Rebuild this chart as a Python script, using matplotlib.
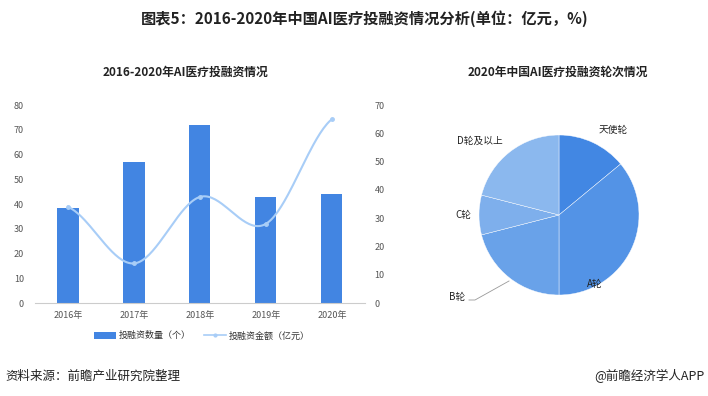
import numpy as np
import matplotlib
matplotlib.use("Agg")
import matplotlib.pyplot as plt
from matplotlib.lines import Line2D
from matplotlib.patches import Patch

plt.rcParams['font.family'] = ['Noto Sans CJK SC', 'DejaVu Sans']

years = ["2016年", "2017年", "2018年", "2019年", "2020年"]
deal_counts = [38.5, 57, 72, 43, 44]          # 投融资数量（个）
deal_amounts = [34, 14, 37.5, 28, 65]         # 投融资金额（亿元）
left_ticks = [0, 10, 20, 30, 40, 50, 60, 70, 80]
right_ticks = [0, 10, 20, 30, 40, 50, 60, 70]

rounds = ["天使轮", "A轮", "B轮", "C轮", "D轮及以上"]
round_shares = [14, 36, 21, 8, 21]
round_colors = ["#4287e3", "#5393e6", "#69a2e9", "#7eafec", "#8bb8ee"]

bar_color = "#4285e2"
line_color = "#a8cdf7"
tick_color = "#555555"

fig = plt.figure(figsize=(7.08, 3.96), dpi=100)

# titles
fig.text(0.515, 0.952, "图表5：2016-2020年中国AI医疗投融资情况分析(单位：亿元，%)",
         ha="center", va="center", fontsize=11, fontweight="bold", color="#222222")
fig.text(0.262, 0.818, "2016-2020年AI医疗投融资情况", ha="center", va="center",
         fontsize=8.5, fontweight="bold", color="#222222")
fig.text(0.788, 0.818, "2020年中国AI医疗投融资轮次情况", ha="center", va="center",
         fontsize=8.5, fontweight="bold", color="#222222")
fig.text(0.007, 0.05, "资料来源：前瞻产业研究院整理", ha="left", va="center",
         fontsize=9, color="#222222")
fig.text(0.995, 0.05, "@前瞻经济学人APP", ha="right", va="center",
         fontsize=9, color="#222222")

# left chart
ax = fig.add_axes([0.0494, 0.2348, 0.466, 0.5])
x = np.arange(len(years))
ax.bar(x, deal_counts, width=0.32, color=bar_color, zorder=2)
ax.set_xlim(-0.5, len(years) - 0.5)
ax.set_ylim(0, 80)
ax.set_yticks(left_ticks)
ax.set_xticks(x)
ax.set_xticklabels(years)
for s in ["top", "right", "left"]:
    ax.spines[s].set_visible(False)
ax.spines["bottom"].set_color("#cccccc")
ax.tick_params(axis="both", length=0, labelsize=6.5, colors=tick_color)
ax.tick_params(axis="x", pad=6)
ax.tick_params(axis="y", pad=8)

ax2 = ax.twinx()
ax2.set_ylim(0, 70)
ax2.set_yticks(right_ticks)
for s in ["top", "right", "left", "bottom"]:
    ax2.spines[s].set_visible(False)
ax2.tick_params(axis="both", length=0, labelsize=6.5, colors=tick_color, pad=7)

# smooth curve through data points (cubic Hermite with Catmull-Rom tangents)
xp = x.astype(float)
yp = np.array(deal_amounts, dtype=float)
m = np.zeros_like(yp)
m[1:-1] = (yp[2:] - yp[:-2]) / 2.0
m[0] = (yp[1] - yp[0]) * 0.5
m[-1] = (yp[-1] - yp[-2]) * 0.5
xs, ys = [], []
for i in range(len(xp) - 1):
    t = np.linspace(0, 1, 40)
    h00 = 2 * t**3 - 3 * t**2 + 1
    h10 = t**3 - 2 * t**2 + t
    h01 = -2 * t**3 + 3 * t**2
    h11 = t**3 - t**2
    xs.extend(xp[i] + t)
    ys.extend(h00 * yp[i] + h10 * m[i] + h01 * yp[i + 1] + h11 * m[i + 1])
ax2.plot(xs, ys, color=line_color, lw=1.5, zorder=3)
ax2.plot(xp, yp, "o", color=line_color, ms=2.5, zorder=4)

handles = [Patch(facecolor=bar_color, edgecolor="none"),
           Line2D([0], [0], color=line_color, lw=1.2, marker="o", ms=2)]
fig.legend(handles, ["投融资数量（个）", "投融资金额（亿元）"], loc="center",
           bbox_to_anchor=(0.285, 0.152), ncol=2, frameon=False, fontsize=6.5,
           handlelength=2.4, handleheight=0.9, columnspacing=1.5, handletextpad=0.3,
           labelcolor="#333333")

# pie
r_px = 80
cx, cy = 559, 215
axp = fig.add_axes([(cx - r_px) / 708, 1 - (cy + r_px) / 396, 2 * r_px / 708, 2 * r_px / 396])
wedges, _ = axp.pie(round_shares, colors=round_colors, startangle=90, counterclock=False,
                    wedgeprops=dict(edgecolor="white", linewidth=0.3))
axp.set_aspect("auto")
axp.set_xlim(-1, 1)
axp.set_ylim(-1, 1)

def fig_pt(px, py):
    return px / 708, 1 - py / 396

lab_kw = dict(fontsize=7, color="#222222", va="center")
fig.text(*fig_pt(599, 130), "天使轮", ha="left", **lab_kw)
fig.text(*fig_pt(587, 284), "A轮", ha="left", **lab_kw)
fig.text(*fig_pt(455, 215), "C轮", ha="left", **lab_kw)
fig.text(*fig_pt(457, 141), "D轮及以上", ha="left", **lab_kw)
fig.text(*fig_pt(449, 297), "B轮", ha="left", **lab_kw)
fig.add_artist(Line2D([469 / 708, 475 / 708, 509 / 708],
                      [1 - 300 / 396, 1 - 300 / 396, 1 - 281 / 396],
                      color="#999999", lw=0.6))

fig.savefig("out.png", dpi=100)
